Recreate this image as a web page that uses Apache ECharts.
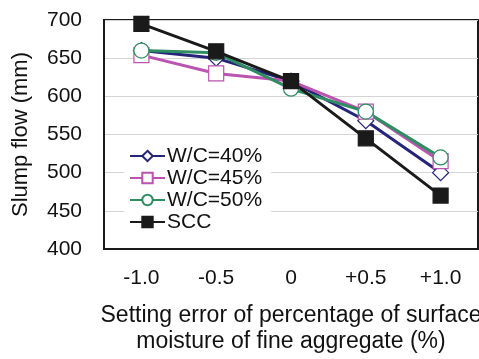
<!DOCTYPE html>
<html>
<head>
<meta charset="utf-8">
<script src="https://cdn.jsdelivr.net/npm/echarts@6/dist/echarts.min.js"></script>
<style>
  html, body { margin: 0; padding: 0; background: #fff; }
  #chart { width: 479px; height: 359px; }
</style>
</head>
<body>
<div id="chart"></div>
<script>
// Setting error of surface moisture vs. slump flow
const categories = ['-1.0', '-0.5', '0', '+0.5', '+1.0'];
const wc40 = [660, 650, 620, 568, 500];
const wc45 = [654, 630, 620, 580, 515];
const wc50 = [660, 657, 610, 580, 520];
const scc  = [695, 659, 620, 545, 470];
const yTicks = { min: 400, max: 700, interval: 50 };

const font = 'Liberation Sans, Arial, sans-serif';
const fs = 21;

function line(name, data, color, symbol, filled) {
  return {
    name: name,
    type: 'line',
    data: data,
    symbol: symbol,
    symbolSize: symbol === 'diamond' ? 16 : 15,
    showSymbol: true,
    lineStyle: { color: color, width: 3 },
    itemStyle: { color: filled ? color : '#fff', borderColor: color, borderWidth: 1.2 },
    emphasis: { disabled: true },
    animation: false
  };
}

const chart = echarts.init(document.getElementById('chart'), null, { renderer: 'canvas' });
chart.setOption({
  backgroundColor: '#fff',
  animation: false,
  textStyle: { fontFamily: font },
  grid: {
    left: 104, right: 1, top: 20, bottom: 110,
    outerBoundsMode: 'none',
    containLabel: false,
    show: true, borderColor: '#1a1a1a', borderWidth: 2, backgroundColor: 'transparent'
  },
  legend: {
    left: 124, top: 144,
    orient: 'vertical',
    backgroundColor: '#fff',
    padding: [1, 9, 1, 5],
    itemWidth: 35, itemHeight: 13, itemGap: 0,
    textStyle: { fontSize: fs, lineHeight: 22, color: '#111', fontFamily: font, padding: [0, 0, 0, -3] },
    data: ['W/C=40%', 'W/C=45%', 'W/C=50%', 'SCC']
  },
  xAxis: {
    type: 'category',
    data: categories,
    boundaryGap: true,
    axisLine: { lineStyle: { color: '#1a1a1a', width: 2 } },
    axisTick: { show: false },
    axisLabel: { fontSize: fs, color: '#111', margin: 19, fontFamily: font },
    name: 'Setting error of percentage of surface\nmoisture of fine aggregate (%)',
    nameLocation: 'middle',
    nameGap: 54,
    nameTextStyle: { fontSize: 23, color: '#111', lineHeight: 26, fontFamily: font }
  },
  yAxis: {
    type: 'value',
    min: yTicks.min, max: yTicks.max, interval: yTicks.interval,
    axisLine: { show: true, lineStyle: { color: '#1a1a1a', width: 2 } },
    axisTick: { show: false },
    splitLine: { lineStyle: { color: '#d4d4d4', width: 1 } },
    axisLabel: { fontSize: fs, color: '#111', margin: 22, fontFamily: font },
    name: 'Slump flow (mm)',
    nameLocation: 'middle',
    nameGap: 72,
    nameTextStyle: { fontSize: 22, color: '#111', fontFamily: font }
  },
  series: [
    line('W/C=40%', wc40, '#25237a', 'diamond', false),
    line('W/C=45%', wc45, '#bb53b0', 'rect', false),
    line('W/C=50%', wc50, '#2f8d62', 'circle', false),
    line('SCC', scc, '#1a1a1a', 'rect', true)
  ]
});
</script>
</body>
</html>
